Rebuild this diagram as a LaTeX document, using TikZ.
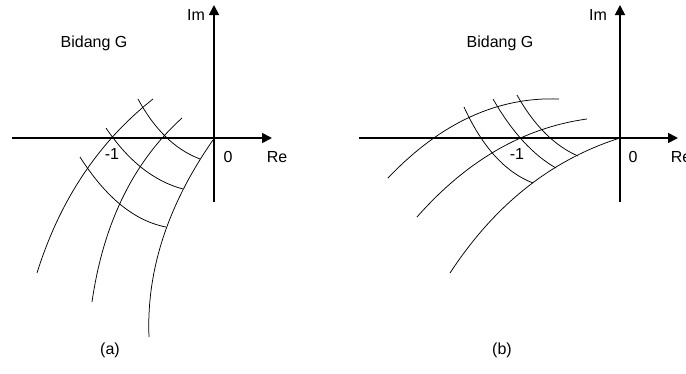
\documentclass[tikz,border=0pt]{standalone}
\usepackage{fontspec}
\setmainfont{Liberation Sans}
\usetikzlibrary{arrows.meta}
\begin{document}
\begin{tikzpicture}[x=1pt,y=-1pt,
  axis/.style={line width=1.7pt,-{Triangle[length=10pt,width=10pt]}},
  curve/.style={line width=0.75pt},
  lbl/.style={font=\fontsize{16}{18}\selectfont,inner sep=0pt}]
  \useasboundingbox (0,0) rectangle (686,373);
  % (a)
  \draw[axis] (12,138) -- (272,138);
  \draw[axis] (214,202) -- (214,5);
  \node[lbl] (ima) at (196,15) {Im};
  \node[lbl] (rea) at (277,157) {Re};
  \node[lbl] (zeroa) at (228,157) {0};
  \node[lbl] (onea) at (112,154) {-1};
  \node[lbl] (planea) at (94,43) {Bidang G};
  \node[lbl] (capa) at (110,350) {(a)};
  \draw[curve] (37,273) .. controls (59.7,200.3) and (98.3,142.3) .. (153,99);
  \draw[curve] (92,302) .. controls (103.3,223.3) and (133.3,162) .. (182,118);
  \draw[curve] (149,337) .. controls (146.3,270.7) and (167.7,205) .. (213,140);
  \draw[curve] (138,99) .. controls (154.7,129.7) and (175.3,149.7) .. (200,159);
  \draw[curve] (106,128) .. controls (128.3,161) and (154,181.3) .. (183,189);
  \draw[curve] (80,157) .. controls (106,197.7) and (134.7,221) .. (166,227);
  % (b)
  \draw[axis] (359,138) -- (678,138);
  \draw[axis] (620,202) -- (620,5);
  \node[lbl] (imb) at (598,15) {Im};
  \node[lbl] (reb) at (681,157) {Re};
  \node[lbl] (zerob) at (633,157) {0};
  \node[lbl] (oneb) at (517,154) {-1};
  \node[lbl] (planeb) at (500,43) {Bidang G};
  \node[lbl] (capb) at (502,350) {(b)};
  \draw[curve] (388,178) .. controls (440.3,123) and (497.3,96.7) .. (559,99);
  \draw[curve] (417,217) .. controls (467,160.3) and (523.7,127.7) .. (587,119);
  \draw[curve] (450,273) .. controls (494.7,204.7) and (551.3,159.7) .. (620,138);
  \draw[curve] (464,107) .. controls (482.3,147) and (505.3,172.3) .. (533,183);
  \draw[curve] (493,99) .. controls (512,132) and (533,155) .. (556,168);
  \draw[curve] (517,95) .. controls (534,125.3) and (554.3,145.7) .. (578,156);
\end{tikzpicture}
\end{document}
